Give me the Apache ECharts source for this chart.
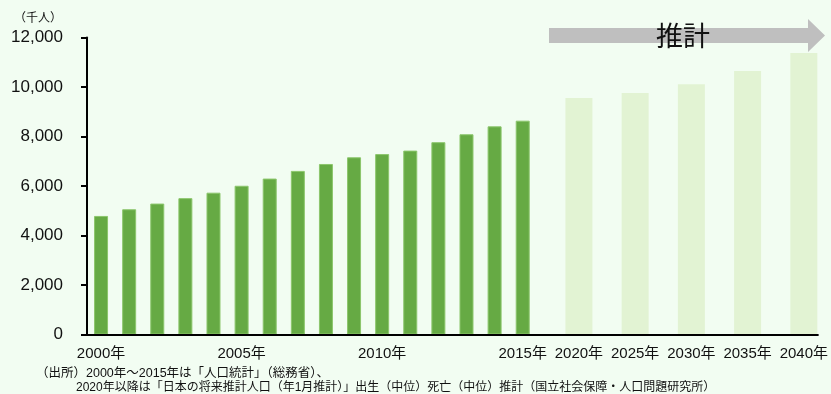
<!DOCTYPE html>
<html>
<head>
<meta charset="utf-8">
<script src="https://cdn.jsdelivr.net/npm/echarts@6/dist/echarts.min.js"></script>
<style>
  html, body { margin: 0; padding: 0; background: #f2fdf2; }
  #chart { width: 831px; height: 394px; }
</style>
</head>
<body>
<div id="chart"></div>
<script>
// Category slots: yearly 2000–2015, then 5-year steps (each with a spacer slot before it)
const years = [
  '2000年','2001年','2002年','2003年','2004年','2005年','2006年','2007年',
  '2008年','2009年','2010年','2011年','2012年','2013年','2014年','2015年',
  's1','2020年','s2','2025年','s3','2030年','s4','2035年','s5','2040年'
];
// Labels printed under the axis
const tickLabels = ['2000年','2005年','2010年','2015年','2020年','2025年','2030年','2035年','2040年'];

// Actual values (千人), 2000–2015
const actualYears = years.slice(0, 16);
const actualValues = [4790, 5060, 5290, 5510, 5730, 6010, 6300, 6610,
                      6890, 7160, 7290, 7430, 7770, 8090, 8410, 8640];
// Projected values (千人)
const projYears = ['2020年','2025年','2030年','2035年','2040年'];
const projValues = [9560, 9760, 10110, 10650, 11370];

// Y-axis ticks
const yMin = 0, yMax = 12000, yStep = 2000;

const actualSeries = years.map(y => {
  const i = actualYears.indexOf(y);
  return i >= 0 ? actualValues[i] : '-';
});
const projSeries = years.map(y => {
  const i = projYears.indexOf(y);
  return i >= 0 ? projValues[i] : '-';
});

const latin = '"Liberation Sans", Arial, "Noto Sans CJK JP", sans-serif';
const cjk = '"Liberation Sans", "Noto Sans CJK JP", sans-serif';

const chart = echarts.init(document.getElementById('chart'), null, { renderer: 'canvas' });
chart.setOption({
  backgroundColor: '#f2fdf2',
  animation: false,
  grid: { left: 87, right: 13, top: 37.5, bottom: 59.5, containLabel: false },
  xAxis: [
    {
      type: 'category',
      data: years,
      boundaryGap: true,
      axisLine: { show: true, lineStyle: { color: '#000', width: 2 } },
      axisTick: { show: false },
      axisLabel: {
        interval: 0,
        margin: 12,
        color: '#111',
        fontSize: 15,
        fontFamily: cjk,
        formatter: v => tickLabels.includes(v) ? v : ''
      },
      splitLine: { show: false },
      z: 5
    },
    {
      // twin axis so projected bars get their own centred column
      type: 'category',
      data: years,
      boundaryGap: true,
      position: 'bottom',
      show: false
    }
  ],
  yAxis: {
    type: 'value',
    min: yMin, max: yMax, interval: yStep,
    axisLine: { show: true, lineStyle: { color: '#000', width: 2 } },
    axisTick: { show: true, length: 6, lineStyle: { color: '#000', width: 2 } },
    axisLabel: {
      margin: 24,
      color: '#111',
      fontSize: 17,
      fontFamily: latin,
      formatter: v => v.toLocaleString('en-US')
    },
    splitLine: { show: false },
    z: 5
  },
  series: [
    {
      name: '実績',
      type: 'bar',
      xAxisIndex: 0,
      data: actualSeries,
      barWidth: 14,
      itemStyle: { color: '#66aa44', borderColor: '#8cc66c', borderWidth: 1 }
    },
    {
      name: '推計',
      type: 'bar',
      xAxisIndex: 1,
      data: projSeries,
      barWidth: 27,
      itemStyle: { color: '#e2f3d3' }
    }
  ],
  graphic: [
    {
      type: 'text', x: 14, y: 17,
      style: {
        text: '（千人）', fill: '#111',
        font: '12px "Noto Sans CJK JP", sans-serif',
        textVerticalAlign: 'middle'
      }
    },
    {
      type: 'polygon',
      shape: { points: [[549, 28], [808, 28], [808, 19], [825, 35.5], [808, 52], [808, 43], [549, 43]] },
      style: { fill: '#bfbfbf' },
      z: 10
    },
    {
      type: 'text', x: 683, y: 36, z: 11,
      style: {
        text: '推計', fill: '#111',
        font: '27px "Noto Sans CJK JP", sans-serif',
        textAlign: 'center', textVerticalAlign: 'middle'
      }
    },
    {
      type: 'text', x: 36, y: 374, z: 11,
      style: {
        text: '（出所）2000年～2015年は「人口統計」（総務省）、',
        fill: '#111', font: '12.5px "Liberation Sans", "Noto Sans CJK JP", sans-serif',
        textVerticalAlign: 'middle'
      }
    },
    {
      type: 'text', x: 76, y: 388, z: 11,
      style: {
        text: '2020年以降は「日本の将来推計人口（年1月推計）」出生（中位）死亡（中位）推計（国立社会保障・人口問題研究所）',
        fill: '#111', font: '12px "Liberation Sans", "Noto Sans CJK JP", sans-serif',
        textVerticalAlign: 'middle'
      }
    }
  ]
});
</script>
</body>
</html>
